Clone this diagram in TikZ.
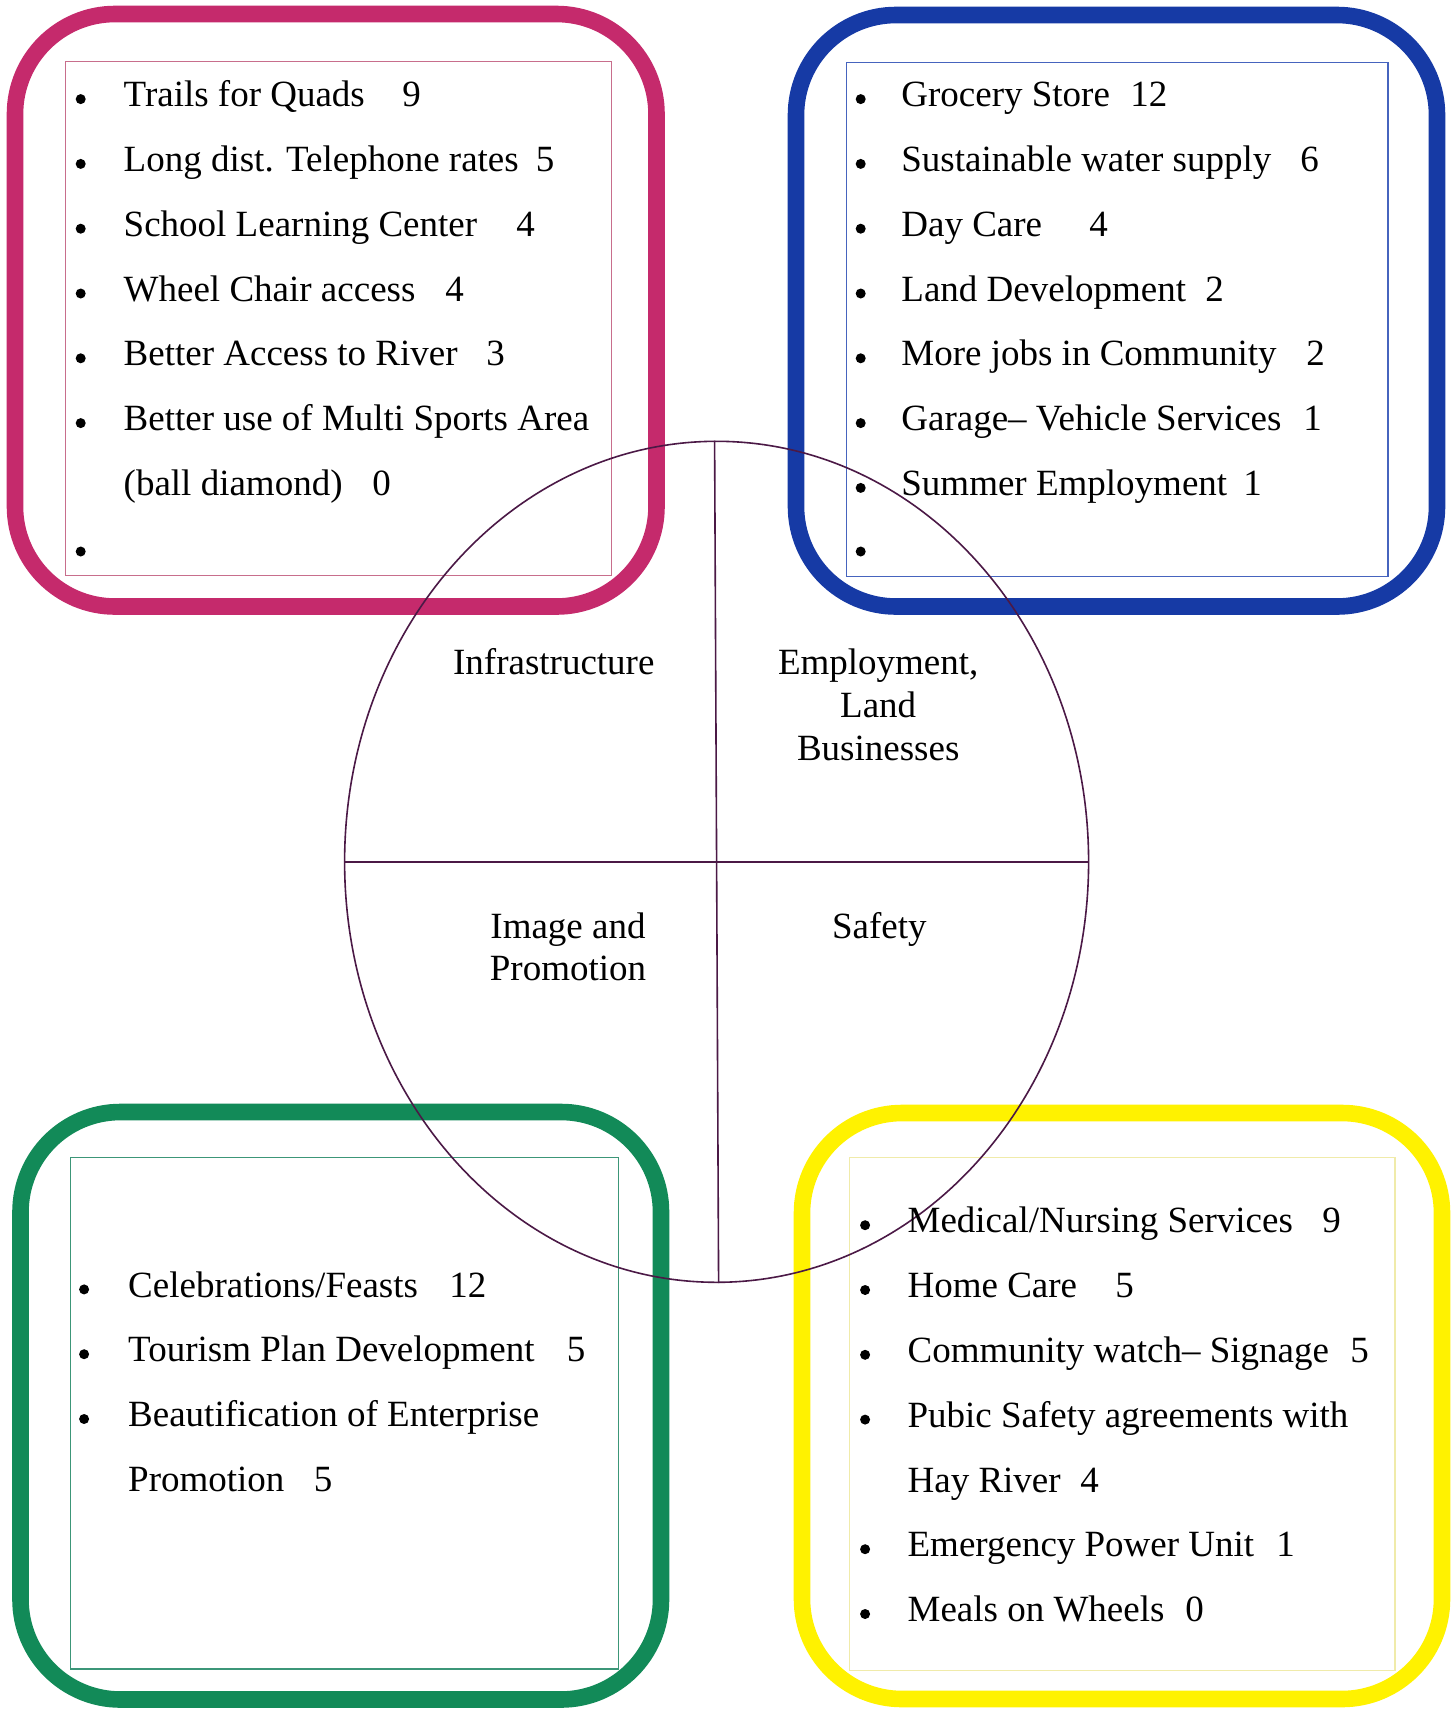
\documentclass[tikz,border=0pt]{standalone}
\usepackage{fontspec}
\setmainfont{Liberation Serif}
\usetikzlibrary{shapes.geometric}
\definecolor{pinkc}{RGB}{197,42,108}
\definecolor{bluec}{RGB}{22,58,165}
\definecolor{greenc}{RGB}{18,138,88}
\definecolor{yellowc}{RGB}{255,242,0}
\definecolor{pinkthin}{RGB}{200,110,140}
\definecolor{bluethin}{RGB}{70,100,190}
\definecolor{greenthin}{RGB}{60,150,120}
\definecolor{yellowthin}{RGB}{240,235,170}
\definecolor{circc}{RGB}{75,25,70}
\newcommand\fs{\fontsize{18.5pt}{22pt}\selectfont}
% #1 name, #2 bullet x, #3 text x, #4 baseline, #5 text, #6 number x, #7 number
\newcommand\lstrow[7]{%
  \fill[black] (#2,#4-7.6) circle (5);
  \node[itm] (#1) at (#3,#4) {#5};
  \node[itm] (#1n) at (#6,#4) {#7};}
\begin{document}
\begin{tikzpicture}[x=0.5pt,y=-0.5pt,
  itm/.style={anchor=base west, inner sep=0pt, font=\fs},
  lbl/.style={anchor=base, inner sep=0pt, font=\fs},
  outerbox/.style={line width=8.3pt, rounded corners=50pt},
  innerbox/.style={line width=0.6pt}]
\useasboundingbox (0,0) rectangle (1455,1709);
\fill[white] (0,0) rectangle (1455,1709);
% outer rounded boxes
\draw[outerbox, pinkc] (15,14) rectangle (656.5,606.5);
\draw[outerbox, bluec] (796,15) rectangle (1437,606.5);
\draw[outerbox, greenc] (20.5,1112) rectangle (661,1699.5);
\draw[outerbox, yellowc] (802,1113) rectangle (1442,1699);
% inner thin frames
\draw[innerbox, pinkthin] (65.7,61.3) rectangle (611.7,575.6);
\draw[innerbox, bluethin] (846.5,62.3) rectangle (1388,576.7);
\draw[innerbox, greenthin] (70.5,1157.8) rectangle (618.2,1669);
\draw[innerbox, yellowthin] (849.8,1157.8) rectangle (1395,1670.7);
% central ellipse with quadrants
\node[draw=circc, line width=0.8pt, ellipse, inner sep=0pt,
      minimum width=372pt, minimum height=420.5pt] (circ) at (716.6,861.8) {};
\draw[circc, line width=0.8pt] ([xshift=-1pt]circ.north) -- ([xshift=1pt]circ.south);
\draw[circc, line width=0.8pt] (circ.west) -- (circ.east);
% quadrant labels
\node[lbl] (q1) at (553.8,674) {Infrastructure};
\node[lbl] (q2a) at (878.2,674) {Employment,};
\node[lbl] (q2b) at (878.2,717.5) {Land};
\node[lbl] (q2c) at (878.2,760.5) {Businesses};
\node[lbl] (q3a) at (568,938) {Image and};
\node[lbl] (q3b) at (568,980.8) {Promotion};
\node[lbl] (q4) at (879.3,938) {Safety};
% pink list
\lstrow{p1}{80.7}{123.3}{106.7}{Trails for Quads}{402}{9}
\lstrow{p2}{80.7}{123.3}{171.5}{Long dist. Telephone rates}{535.5}{5}
\lstrow{p3}{80.7}{123.3}{236.3}{School Learning Center}{516}{4}
\lstrow{p4}{80.7}{123.3}{301.1}{Wheel Chair access}{445}{4}
\lstrow{p5}{80.7}{123.3}{365.9}{Better Access to River}{486}{3}
\fill[black] (80.7,430.7-7.6) circle (5);
\node[itm] (p6) at (123.3,430.7) {Better use of Multi Sports Area};
\node[itm] (p7) at (123.3,495.5) {(ball diamond)};
\node[itm] (p7n) at (372,495.5) {0};
\fill[black] (80.7,551.5) circle (5);
% blue list
\lstrow{b1}{860.7}{901}{106.7}{Grocery Store}{1130}{12}
\lstrow{b2}{860.7}{901}{171.5}{Sustainable water supply}{1300}{6}
\lstrow{b3}{860.7}{901}{236.3}{Day Care}{1089}{4}
\lstrow{b4}{860.7}{901}{301.1}{Land Development}{1205}{2}
\lstrow{b5}{860.7}{901}{365.9}{More jobs in Community}{1306}{2}
\lstrow{b6}{860.7}{901}{430.7}{Garage\textendash{} Vehicle Services}{1303}{1}
\lstrow{b7}{860.7}{901}{495.5}{Summer Employment}{1243}{1}
\fill[black] (860.7,551.5) circle (5);
% green list
\lstrow{g1}{84.1}{127.8}{1297}{Celebrations/Feasts}{449}{12}
\lstrow{g2}{84.1}{127.8}{1361.8}{Tourism Plan Development}{566.5}{5}
\fill[black] (84.1,1426.6-7.6) circle (5);
\node[itm] (g3) at (127.8,1426.6) {Beautification of Enterprise};
\node[itm] (g4) at (127.8,1491.4) {Promotion};
\node[itm] (g4n) at (313.5,1491.4) {5};
% yellow list
\lstrow{y1}{865.1}{907.2}{1232.8}{Medical/Nursing Services}{1322}{9}
\lstrow{y2}{865.1}{907.2}{1297.6}{Home Care}{1115}{5}
\lstrow{y3}{865.1}{907.2}{1362.4}{Community watch\textendash{} Signage}{1350}{5}
\fill[black] (865.1,1427.2-7.6) circle (5);
\node[itm] (y4) at (907.2,1427.2) {Pubic Safety agreements with};
\node[itm] (y5) at (907.2,1492) {Hay River};
\node[itm] (y5n) at (1080,1492) {4};
\lstrow{y6}{865.1}{907.2}{1556.8}{Emergency Power Unit}{1276}{1}
\lstrow{y7}{865.1}{907.2}{1621.6}{Meals on Wheels}{1185}{0}
\end{tikzpicture}
\end{document}
